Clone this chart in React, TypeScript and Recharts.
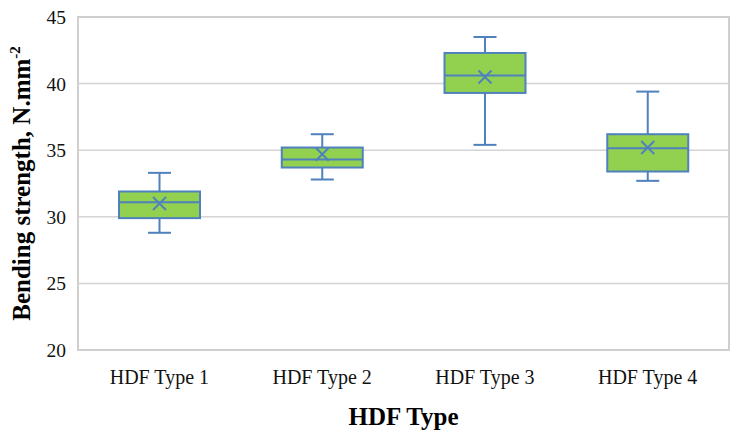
import React from "react";
import {
  ComposedChart,
  Bar,
  XAxis,
  YAxis,
  CartesianGrid,
  ReferenceArea,
} from "recharts";

const categories = ["HDF Type 1", "HDF Type 2", "HDF Type 3", "HDF Type 4"];
const minVals = [28.8, 32.8, 35.4, 32.7];
const q1Vals = [29.9, 33.7, 39.3, 33.4];
const medianVals = [31.1, 34.3, 40.6, 35.15];
const q3Vals = [31.9, 35.2, 42.3, 36.2];
const maxVals = [33.3, 36.2, 43.5, 39.4];
const meanVals = [31.0, 34.7, 40.5, 35.2];
const yTicks = [20, 25, 30, 35, 40, 45];

const FONT = "'Liberation Serif', 'Times New Roman', serif";
const BOX_FILL = "#92d050";
const BOX_STROKE = "#4f81bd";

const data = categories.map((name, i) => ({
  name,
  range: [minVals[i], maxVals[i]],
  min: minVals[i],
  q1: q1Vals[i],
  median: medianVals[i],
  q3: q3Vals[i],
  max: maxVals[i],
  mean: meanVals[i],
}));

// the bar spans min..max, so its y/height give the value -> pixel mapping
function BoxShape(props: any) {
  const { x, y, width, height, payload } = props;
  if (payload == null || height == null) return null;
  const { min, q1, median, q3, max, mean } = payload;
  const k = height / (max - min);
  const sy = (v: number) => y + (max - v) * k;
  const cx = x + width / 2;
  const cap = 11.5;
  const m = 6.5;
  return (
    <g stroke={BOX_STROKE} strokeWidth={2} fill="none">
      <line x1={cx} x2={cx} y1={sy(max)} y2={sy(q3)} />
      <line x1={cx} x2={cx} y1={sy(q1)} y2={sy(min)} />
      <line x1={cx - cap} x2={cx + cap} y1={sy(max)} y2={sy(max)} />
      <line x1={cx - cap} x2={cx + cap} y1={sy(min)} y2={sy(min)} />
      <rect
        x={x}
        y={sy(q3)}
        width={width}
        height={sy(q1) - sy(q3)}
        fill={BOX_FILL}
      />
      <line x1={x} x2={x + width} y1={sy(median)} y2={sy(median)} />
      <line x1={cx - m} x2={cx + m} y1={sy(mean) - m} y2={sy(mean) + m} />
      <line x1={cx - m} x2={cx + m} y1={sy(mean) + m} y2={sy(mean) - m} />
    </g>
  );
}

function YTitle(props: any) {
  const { viewBox } = props;
  const cy = viewBox.y + viewBox.height / 2;
  const bx = 30;
  return (
    <text
      x={bx}
      y={cy}
      transform={`rotate(-90, ${bx}, ${cy})`}
      textAnchor="middle"
      fontFamily={FONT}
      fontWeight="bold"
      fontSize={25}
      fill="#000"
    >
      Bending strength, N.mm
      <tspan fontSize={15} dy={-10}>-2</tspan>
    </text>
  );
}

function XTitle(props: any) {
  const { viewBox } = props;
  return (
    <text
      x={viewBox.x + viewBox.width / 2}
      y={425}
      textAnchor="middle"
      fontFamily={FONT}
      fontWeight="bold"
      fontSize={25}
      fill="#000"
    >
      HDF Type
    </text>
  );
}

export default function App() {
  return (
    <div style={{ position: "absolute", left: 0, top: 0, background: "#fff" }}>
      <ComposedChart
        width={738}
        height={441}
        data={data}
        margin={{ top: 17, right: 9, bottom: 0, left: 0 }}
      >
        <CartesianGrid
          vertical={false}
          stroke="#d4d4d4"
          strokeWidth={1.5}
        />
        <XAxis
          dataKey="name"
          height={91}
          tickLine={false}
          axisLine={false}
          tickMargin={14}
          tick={{ fontSize: 20, fill: "#111", fontFamily: FONT }}
          label={<XTitle />}
        />
        <YAxis
          width={78}
          domain={[20, 45]}
          ticks={yTicks}
          interval={0}
          tickLine={false}
          axisLine={false}
          tickMargin={6}
          tick={{ fontSize: 19.5, fill: "#111", fontFamily: FONT }}
          label={<YTitle />}
        />
        <ReferenceArea
          y1={20}
          y2={45}
          fill="none"
          stroke="#cfcfcf"
          strokeWidth={2}
          ifOverflow="visible"
        />
        <Bar
          dataKey="range"
          barSize={81}
          shape={<BoxShape />}
          isAnimationActive={false}
        />
      </ComposedChart>
    </div>
  );
}
